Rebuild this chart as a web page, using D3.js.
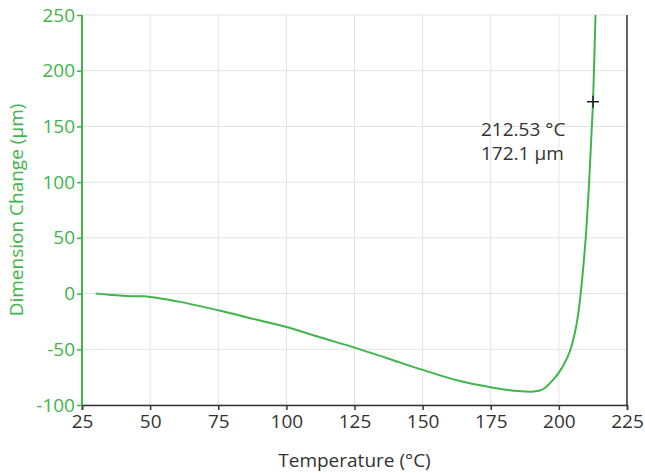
<!DOCTYPE html>
<html><head><meta charset="utf-8">
<script src="https://cdn.jsdelivr.net/npm/d3@7"></script>
<style>body{margin:0;background:#fff}svg{display:block}</style>
</head><body><svg id="c" width="645" height="473"></svg>
<script>
const temperature = [30,35,40,45,48,50,60,75,90,100,112,125,137,150,163,175,185,190,193,195,198,200,203,204,205,206.3,207,208,209,210,211,212,212.53,213,213.5];
const dimension   = [0,-1,-2,-2.5,-2.5,-3,-7,-15,-24,-30,-39,-48.5,-58,-68.5,-78,-84,-87.5,-88,-87,-84.5,-77,-71,-58,-52,-44,-30,-20,0,25,55,95,145,172.1,210,255];
const xTicks = [25,50,75,100,125,150,175,200,225];
const yTicks = [-100,-50,0,50,100,150,200,250];
const cursor = {t:212.53, v:172.1};
const xTitle = "Temperature (°C)";
const yTitle = "Dimension Change (µm)";

const green = "#3fb54a", dark = "#333";
const font = "'Open Sans', Lato, sans-serif";
const fs = "19px";
const m = {l:82, r:627, t:15, b:405};
const svg = d3.select("#c");
const x = d3.scaleLinear().domain([25,225]).range([m.l,m.r]);
const y = d3.scaleLinear().domain([-100,250]).range([m.b,m.t]);
const fmt = d => String(d);

// grid
svg.append("g").selectAll("line").data(xTicks).join("line")
  .attr("x1",d=>x(d)).attr("x2",d=>x(d)).attr("y1",m.t).attr("y2",m.b)
  .attr("stroke","#e3e3e3").attr("stroke-width",1);
svg.append("g").selectAll("line").data(yTicks).join("line")
  .attr("x1",m.l).attr("x2",m.r).attr("y1",d=>y(d)).attr("y2",d=>y(d))
  .attr("stroke","#e3e3e3").attr("stroke-width",1);

// right border
svg.append("line").attr("x1",m.r).attr("x2",m.r).attr("y1",m.t).attr("y2",m.b)
  .attr("stroke",dark).attr("stroke-width",1.5);

// x axis
const xa = svg.append("g").attr("transform",`translate(0,${m.b})`)
  .call(d3.axisBottom(x).tickValues(xTicks).tickSize(5).tickPadding(5).tickFormat(fmt));
xa.select(".domain").attr("stroke",dark).attr("stroke-width",1.5);
xa.selectAll(".tick line").attr("stroke",dark).attr("stroke-width",1.5);
xa.selectAll("text").attr("fill",dark).style("font-family",font).style("font-size",fs);

// y axis
const ya = svg.append("g").attr("transform",`translate(${m.l},0)`)
  .call(d3.axisLeft(y).tickValues(yTicks).tickSize(5).tickPadding(2).tickFormat(fmt));
ya.select(".domain").attr("stroke",green).attr("stroke-width",2).attr("d",`M-0,${m.t}V${m.b}`);
ya.selectAll(".tick line").attr("stroke",green).attr("stroke-width",1.5);
ya.selectAll("text").attr("fill",green).style("font-family",font).style("font-size",fs);

// titles
svg.append("text").attr("x",(m.l+m.r)/2).attr("y",467).attr("text-anchor","middle")
  .attr("fill",dark).style("font-family",font).style("font-size",fs).text(xTitle);
svg.append("text").attr("transform",`translate(23,${(m.t+m.b)/2}) rotate(-90)`).attr("text-anchor","middle")
  .attr("fill",green).style("font-family",font).style("font-size",fs).text(yTitle);

// curve
svg.append("clipPath").attr("id","clip").append("rect")
  .attr("x",m.l).attr("y",m.t).attr("width",m.r-m.l).attr("height",m.b-m.t);
const pts = temperature.map((t,i)=>[t,dimension[i]]);
svg.append("path").datum(pts).attr("clip-path","url(#clip)")
  .attr("d",d3.line().x(d=>x(d[0])).y(d=>y(d[1])).curve(d3.curveMonotoneX))
  .attr("fill","none").attr("stroke",green).attr("stroke-width",2);

// cursor
const cx = x(cursor.t), cy = y(cursor.v);
svg.append("path").attr("d",`M${cx-6},${cy}H${cx+6}M${cx},${cy-6}V${cy+6}`)
  .attr("stroke","#222").attr("stroke-width",1.5);
const lab = svg.append("text").attr("fill",dark).style("font-family",font).style("font-size",fs);
lab.append("tspan").attr("x",481).attr("y",136).text(`${cursor.t} °C`);
lab.append("tspan").attr("x",481).attr("y",160).text(`${cursor.v} µm`);
</script></body></html>
